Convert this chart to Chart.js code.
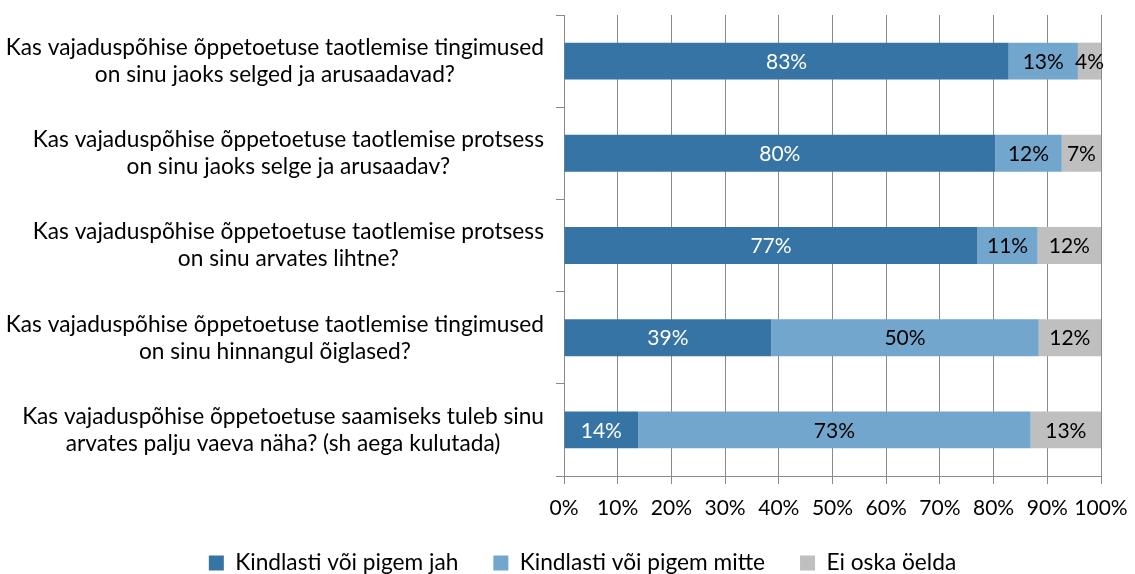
<!DOCTYPE html>
<html>
<head>
<meta charset="utf-8">
<script src="https://cdn.jsdelivr.net/npm/chart.js@4/dist/chart.umd.min.js"></script>
<style>
  html, body { margin: 0; padding: 0; background: #fff; }
  #wrap { width: 1135px; height: 574px; }
</style>
</head>
<body>
<div id="wrap"><canvas id="c" width="1135" height="574"></canvas></div>
<script>
// Survey questions (each split into two lines)
const questions = [
  ["Kas vajaduspõhise õppetoetuse taotlemise tingimused", "on sinu jaoks selged ja arusaadavad?"],
  ["Kas vajaduspõhise õppetoetuse taotlemise protsess", "on sinu jaoks selge ja arusaadav?"],
  ["Kas vajaduspõhise õppetoetuse taotlemise protsess", "on sinu arvates lihtne?"],
  ["Kas vajaduspõhise õppetoetuse taotlemise tingimused", "on sinu hinnangul õiglased?"],
  ["Kas vajaduspõhise õppetoetuse saamiseks tuleb sinu", "arvates palju vaeva näha? (sh aega kulutada)"]
];

// Answer shares, percent of respondents
const seriesNames = ["Kindlasti või pigem jah", "Kindlasti või pigem mitte", "Ei oska öelda"];
const jah   = [82.8, 80.3, 77.0, 38.6, 13.8];
const mitte = [12.9, 12.4, 11.2, 49.8, 73.1];
const eiOska = [4.3, 7.3, 11.8, 11.6, 13.1];

// Axis ticks
const xTicks = [0, 10, 20, 30, 40, 50, 60, 70, 80, 90, 100];

const colors = ["#3674A6", "#72A6CD", "#BFBFBF"];
const labelColors = ["#ffffff", "#000000", "#000000"];
const FONT = "Lato, 'Open Sans', sans-serif";
const TEXT_SIZE = 22.7;
const NUM_SIZE = 21;
const gridColor = "#8a8a8a";

// Two-line category labels: lines centred on each other, block right-aligned to the axis
const categoryLabels = {
  id: "categoryLabels",
  afterDraw(chart) {
    const y = chart.scales.y;
    const ctx = chart.ctx;
    ctx.save();
    ctx.font = TEXT_SIZE + "px " + FONT;
    ctx.fillStyle = "#000";
    ctx.textAlign = "center";
    ctx.textBaseline = "middle";
    const lh = 27;
    const right = y.right - 20;
    questions.forEach((lines, i) => {
      const cy = y.getPixelForValue(i);
      const w = Math.max(...lines.map(l => ctx.measureText(l).width));
      const cx = right - w / 2;
      lines.forEach((l, k) => {
        ctx.fillText(l, cx, cy + (k - (lines.length - 1) / 2) * lh);
      });
    });
    ctx.restore();
  }
};

// Percentage labels centred in each segment
const segmentLabels = {
  id: "segmentLabels",
  afterDatasetsDraw(chart) {
    const ctx = chart.ctx;
    ctx.save();
    ctx.font = NUM_SIZE + "px " + FONT;
    ctx.textAlign = "center";
    ctx.textBaseline = "middle";
    chart.data.datasets.forEach((ds, di) => {
      const meta = chart.getDatasetMeta(di);
      ctx.fillStyle = labelColors[di];
      meta.data.forEach((bar, i) => {
        const p = bar.getProps(["x", "y", "base"], true);
        ctx.fillText(Math.round(ds.data[i]) + "%", (p.x + p.base) / 2, p.y + 1);
      });
    });
    ctx.restore();
  }
};

// Move the legend row slightly right and up from its default slot
const legendShift = {
  id: "legendShift",
  afterLayout(chart) {
    const lg = chart.legend;
    if (lg) {
      lg.left += 32;
      lg.right += 32;
      lg.top -= 5.3;
      lg.bottom -= 5.3;
    }
  }
};

const datasets = [jah, mitte, eiOska].map((d, i) => ({
  label: seriesNames[i],
  data: d,
  backgroundColor: colors[i],
  borderWidth: 0,
  categoryPercentage: 1,
  barPercentage: 0.4
}));

new Chart(document.getElementById("c"), {
  type: "bar",
  data: { labels: questions.map(q => q.join(" ")), datasets },
  options: {
    indexAxis: "y",
    responsive: false,
    animation: false,
    devicePixelRatio: 1,
    layout: { padding: { top: 15, right: 34, left: 0, bottom: -15.7 } },
    scales: {
      x: {
        stacked: true,
        min: 0,
        max: 100,
        afterBuildTicks(scale) { scale.ticks = xTicks.map(v => ({ value: v })); },
        afterFit(scale) {
          scale.height = 46;
          scale.paddingLeft = 0;
          scale.paddingRight = 0;
        },
        grid: { color: gridColor, lineWidth: 1, tickLength: 8, drawTicks: true },
        border: { display: true, color: gridColor, width: 1 },
        ticks: {
          callback: v => v + "%",
          color: "#000",
          font: { family: FONT, size: NUM_SIZE },
          padding: 12,
          autoSkip: false,
          maxRotation: 0
        }
      },
      y: {
        stacked: true,
        afterFit(scale) { scale.width = 564; },
        grid: { display: true, drawOnChartArea: false, drawTicks: true, tickLength: 8, color: gridColor, offset: true },
        border: { display: true, color: gridColor, width: 1 },
        ticks: { display: false }
      }
    },
    plugins: {
      legend: {
        position: "bottom",
        labels: {
          boxWidth: 15,
          boxHeight: 15,
          padding: 35,
          color: "#000",
          font: { family: FONT, size: TEXT_SIZE }
        }
      },
      tooltip: { enabled: false }
    }
  },
  plugins: [categoryLabels, segmentLabels, legendShift]
});
</script>
</body>
</html>
